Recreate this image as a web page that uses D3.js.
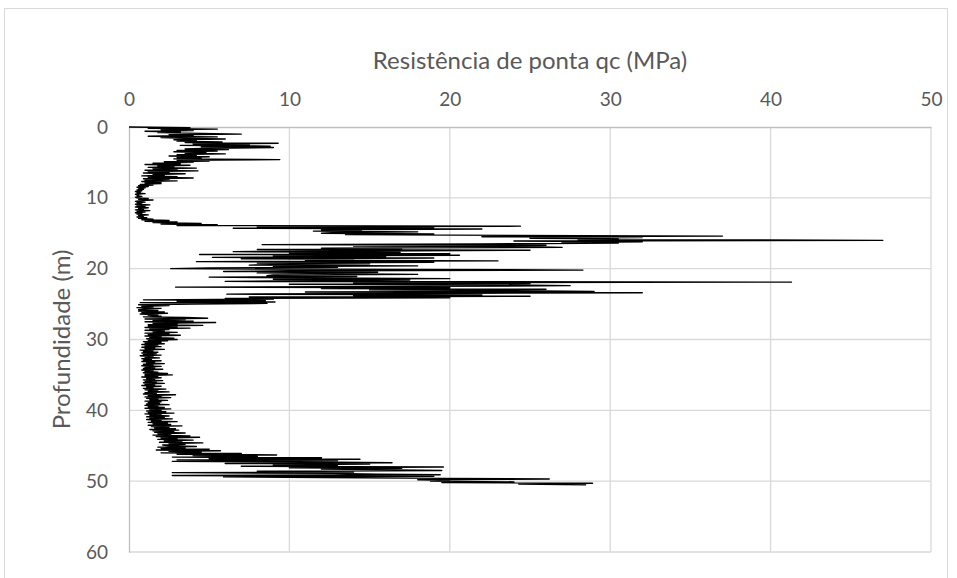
<!DOCTYPE html>
<html>
<head>
<meta charset="utf-8">
<script src="https://cdn.jsdelivr.net/npm/d3@7"></script>
<style>
  body { margin: 0; background: #fff; }
  svg { display: block; font-family: Lato, "Open Sans", sans-serif; }
</style>
</head>
<body>
<script>
var w = 957, h = 578;
var margin = { top: 127, left: 129, right: 26, bottom: 26 };

// qc readings (MPa), one row per metre, 10 readings at 0.1 m spacing
var qcByMetre = [
  [0.0, 3.8, 1.2, 5.5, 2.0, 4.0, 1.0, 3.2, 1.8, 4.5],
  [7.0, 2.5, 4.0, 1.2, 5.5, 2.0, 3.5, 6.0, 2.8, 4.2],
  [3.0, 5.8, 3.5, 9.3, 4.0, 7.5, 3.2, 8.8, 4.5, 9.0],
  [5.0, 3.5, 6.2, 3.0, 5.5, 2.8, 4.8, 3.5, 6.0, 3.0],
  [4.2, 2.5, 5.0, 3.0, 4.5, 2.8, 9.4, 3.0, 5.0, 2.2],
  [4.0, 1.5, 3.2, 1.0, 3.8, 1.8, 2.8, 1.2, 4.2, 1.5],
  [3.0, 1.0, 4.3, 1.2, 2.5, 0.9, 3.5, 1.5, 2.2, 0.8],
  [3.0, 1.2, 4.0, 0.9, 2.5, 1.0, 3.0, 0.8, 2.0, 1.0],
  [2.0, 0.7, 1.5, 0.6, 1.2, 0.5, 1.0, 0.6, 0.9, 0.5],
  [0.8, 0.4, 0.7, 0.5, 1.0, 0.4, 0.6, 0.5, 0.8, 0.4],
  [0.5, 1.2, 0.6, 1.5, 0.7, 0.4, 1.0, 0.5, 0.8, 0.4],
  [1.3, 0.5, 1.0, 0.4, 1.2, 0.6, 0.9, 0.4, 1.3, 0.5],
  [1.0, 0.4, 0.8, 0.5, 1.2, 0.6, 0.9, 0.5, 1.1, 0.6],
  [1.5, 0.8, 2.5, 1.0, 3.0, 1.5, 4.5, 2.0, 5.5, 3.0],
  [24.4, 8.0, 19.0, 6.5, 22.0, 12.0, 14.5, 11.5, 18.0, 13.0],
  [12.0, 19.0, 13.5, 24.0, 37.0, 22.0, 32.0, 25.0, 30.5, 28.0],
  [47.0, 24.0, 32.0, 27.0, 30.5, 22.0, 8.3, 26.0, 14.0, 25.0],
  [27.0, 12.0, 17.0, 8.0, 25.0, 15.0, 6.5, 16.9, 10.0, 20.0],
  [4.4, 20.6, 9.0, 16.0, 5.2, 19.0, 7.0, 14.0, 11.0, 23.0],
  [4.2, 19.0, 8.0, 15.0, 10.0, 7.5, 18.0, 9.0, 13.0, 5.0],
  [2.6, 16.0, 28.3, 10.0, 5.9, 15.5, 8.0, 13.0, 18.0, 9.0],
  [8.6, 14.2, 5.0, 12.0, 20.0, 9.0, 17.5, 11.0, 6.0, 41.3],
  [14.0, 25.0, 10.0, 22.9, 27.5, 18.0, 2.9, 20.0, 12.0, 26.0],
  [15.0, 24.0, 29.0, 11.0, 32.0, 18.0, 6.1, 22.0, 14.0, 25.0],
  [7.5, 20.0, 6.0, 9.0, 0.9, 8.5, 3.0, 9.1, 0.7, 8.6],
  [4.0, 0.6, 2.5, 0.8, 1.5, 0.5, 2.0, 1.0, 0.6, 1.8],
  [0.6, 2.2, 0.8, 2.4, 0.7, 1.8, 1.2, 2.0, 0.9, 3.5],
  [4.9, 1.0, 3.5, 1.5, 4.0, 1.0, 5.4, 1.5, 3.0, 1.2],
  [4.6, 1.2, 3.0, 1.0, 3.8, 1.3, 2.5, 1.0, 2.2, 1.5],
  [3.0, 1.0, 2.5, 1.2, 3.2, 1.0, 2.0, 1.3, 2.8, 1.1],
  [3.0, 1.2, 2.4, 0.9, 2.0, 1.0, 2.2, 0.8, 1.8, 1.0],
  [2.0, 0.8, 1.6, 1.0, 2.2, 0.7, 1.5, 0.9, 1.8, 0.8],
  [1.7, 0.9, 2.0, 0.7, 1.5, 1.0, 1.9, 0.8, 1.4, 0.9],
  [2.0, 0.8, 1.6, 1.1, 2.2, 0.9, 1.5, 0.8, 2.0, 1.0],
  [1.6, 0.9, 2.1, 0.8, 1.5, 1.0, 1.8, 0.9, 2.4, 1.0],
  [2.7, 1.0, 1.8, 0.8, 2.0, 1.1, 1.6, 0.9, 2.1, 1.0],
  [1.7, 0.9, 2.2, 1.0, 1.6, 0.8, 2.0, 1.1, 1.5, 0.9],
  [2.3, 1.0, 1.8, 1.2, 2.5, 1.0, 1.7, 0.9, 2.9, 1.2],
  [2.0, 1.0, 2.6, 1.1, 1.8, 1.3, 2.4, 1.0, 2.0, 1.2],
  [1.9, 1.1, 2.5, 1.0, 1.8, 1.2, 2.2, 1.0, 2.6, 1.3],
  [2.0, 1.1, 2.3, 1.2, 2.8, 1.0, 2.0, 1.3, 2.5, 1.1],
  [2.2, 1.3, 2.7, 1.1, 2.0, 1.4, 3.0, 1.2, 2.4, 1.5],
  [2.6, 1.2, 3.3, 1.4, 2.5, 1.6, 2.9, 1.3, 3.1, 1.5],
  [2.8, 1.6, 3.5, 1.8, 2.6, 1.5, 3.8, 1.7, 4.4, 2.0],
  [3.0, 1.8, 4.0, 2.2, 3.3, 1.9, 4.6, 2.5, 3.5, 2.1],
  [2.5, 4.2, 1.8, 3.5, 2.0, 5.0, 1.7, 5.7, 2.5, 4.5],
  [2.0, 7.0, 3.0, 9.2, 4.0, 8.0, 2.7, 12.0, 5.0, 14.4],
  [3.0, 13.0, 2.7, 11.0, 16.4, 6.0, 15.0, 9.0, 13.0, 7.0],
  [19.6, 10.0, 17.0, 12.0, 16.7, 19.5, 8.0, 14.0, 2.7, 12.7],
  [15.5, 19.4, 2.7, 19.0, 5.9, 12.0, 19.7, 26.2, 18.0, 20.0],
  [18.8, 24.0, 19.5, 28.9, 24.3, 28.5]
];
var xTicks = [0, 10, 20, 30, 40, 50];
var yTicks = [0, 10, 20, 30, 40, 50, 60];

// flatten into (depth, qc) points
var points = [];
qcByMetre.forEach(function (row, m) {
  row.forEach(function (v, i) { points.push({ depth: m + i / 10, qc: v }); });
});

var svg = d3.select("body").append("svg").attr("width", w).attr("height", h);

// chart area border
svg.append("rect")
  .attr("x", 4.5).attr("y", 8.5).attr("width", 943).attr("height", 600)
  .attr("fill", "none").attr("stroke", "#d9d9d9");

var xScale = d3.scaleLinear().domain([0, 50]).range([margin.left, w - margin.right]);
var yScale = d3.scaleLinear().domain([0, 60]).range([margin.top, h - margin.bottom]);

// gridlines
svg.append("g").selectAll("line").data(xTicks.slice(1)).enter().append("line")
  .attr("x1", function (d) { return xScale(d); }).attr("x2", function (d) { return xScale(d); })
  .attr("y1", yScale(0)).attr("y2", yScale(60))
  .attr("stroke", "#d9d9d9").attr("stroke-width", 1.3);
svg.append("g").selectAll("line").data(yTicks.slice(1)).enter().append("line")
  .attr("x1", xScale(0)).attr("x2", xScale(50))
  .attr("y1", function (d) { return yScale(d); }).attr("y2", function (d) { return yScale(d); })
  .attr("stroke", "#d9d9d9").attr("stroke-width", 1.3);

// axes (top and left)
var xAxis = svg.append("g").attr("transform", "translate(0," + yScale(0) + ")")
  .call(d3.axisTop(xScale).tickValues(xTicks).tickSize(0).tickPadding(21));
var yAxis = svg.append("g").attr("transform", "translate(" + xScale(0) + ",0)")
  .call(d3.axisLeft(yScale).tickValues(yTicks).tickSize(0).tickPadding(21));
[xAxis, yAxis].forEach(function (a) {
  a.select(".domain").attr("stroke", "#bfbfbf").attr("stroke-width", 1.3);
  a.selectAll("text").attr("fill", "#595959").style("font-size", "19px")
    .style("font-family", "Lato, 'Open Sans', sans-serif");
});

// the profile
var line = d3.line()
  .x(function (d) { return xScale(d.qc); })
  .y(function (d) { return yScale(d.depth); });
svg.append("path").datum(points)
  .attr("d", line)
  .attr("fill", "none").attr("stroke", "#000").attr("stroke-width", 1.4)
  .attr("stroke-linejoin", "round");

// titles
svg.append("text")
  .attr("x", (xScale(0) + xScale(50)) / 2).attr("y", 69)
  .attr("text-anchor", "middle").attr("fill", "#595959").style("font-size", "24px")
  .text("Resistência de ponta qc (MPa)");
svg.append("text")
  .attr("transform", "translate(70," + (yScale(0) + yScale(60)) / 2 + ") rotate(-90)")
  .attr("text-anchor", "middle").attr("fill", "#595959").style("font-size", "24px")
  .text("Profundidade (m)");
</script>
</body>
</html>
